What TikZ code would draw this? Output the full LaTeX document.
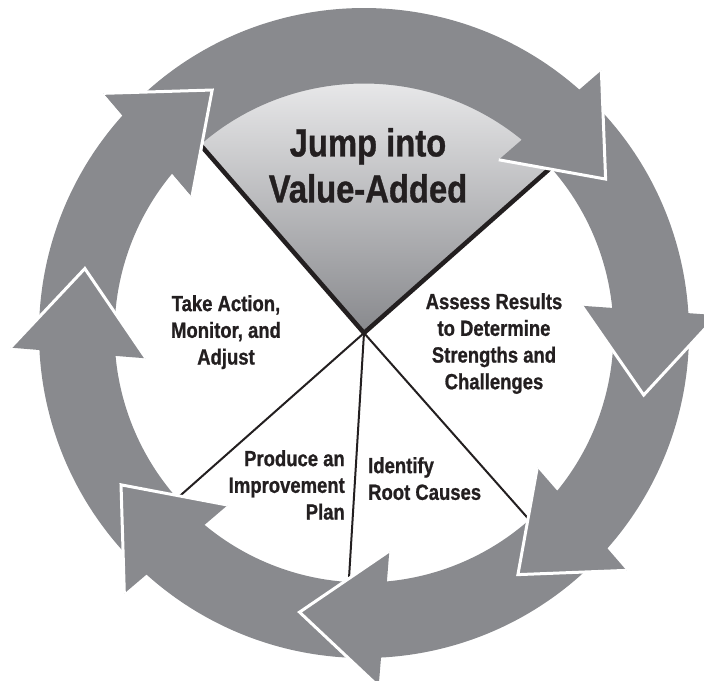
\documentclass[tikz,border=0pt]{standalone}
\usepackage{fontspec}
\newfontfamily\condfont{Liberation Sans}[FakeStretch=0.84,FakeBold=0.9]
\definecolor{arrowgray}{RGB}{137,138,142}
\definecolor{wedgetop}{RGB}{243,243,244}
\definecolor{wedgebot}{RGB}{136,137,141}
\definecolor{inkblack}{RGB}{35,31,32}
% #1 = tip angle, #2 = angular length from tip back to tail
\newcommand\cycarrow[2]{%
  \begin{scope}[rotate=#1]
    \fill[arrowgray] (#2:325) arc[start angle=#2, end angle=16, radius=325pt]
      -- (341.23,93.81) -- (286.5,0) -- (206.73,73.71)
      -- (18.27:249.5) arc[start angle=18.27, end angle=#2, radius=249.5pt] -- cycle;
    \draw[headedge] (341.23,93.81) -- (286.5,0) -- (206.73,73.71);
  \end{scope}}
\newcommand\cychead[1]{%
  \begin{scope}[rotate=#1]
    \fill[arrowgray] (341.23,93.81) -- (286.5,0) -- (206.73,73.71) -- cycle;
    \draw[headedge] (341.23,93.81) -- (286.5,0) -- (206.73,73.71);
  \end{scope}}
\begin{document}
\begin{tikzpicture}[x=1pt,y=1pt,
  headedge/.style={draw=white, line width=3pt, line join=miter},
  thinline/.style={draw=inkblack, line width=2pt},
  thickline/.style={draw=inkblack, line width=4.5pt, line join=miter},
  lbl/.style={font=\condfont\bfseries\fontsize{22}{26.7}\selectfont, text=inkblack, inner sep=0pt},
  ttl/.style={font=\condfont\bfseries\fontsize{39}{46}\selectfont, text=inkblack, inner sep=0pt, align=center}]
\useasboundingbox (-364,-347) rectangle (340,333);
\clip (-364,-347) rectangle (340,333);
\coordinate (c) at (0,0);
% top wedge
\shade[top color=wedgetop, bottom color=wedgebot]
  (c) -- (41.5:252) arc[start angle=41.5, end angle=131, radius=252pt] -- cycle;
\draw[thickline] (131:252) -- (c) -- (41.5:252);
% thin dividers
\coordinate (d1) at (-48.5:252);
\coordinate (d2) at (-93.5:252);
\coordinate (d3) at (-138.5:252);
\draw[thinline] (c) -- (d1);
\draw[thinline] (c) -- (d2);
\draw[thinline] (c) -- (d3);
% ring of arrows
\cycarrow{122}{57}
\cycarrow{167}{57}
\cycarrow{-148}{57}
\cycarrow{-103}{57.5}
\cycarrow{-57.5}{57}
\cycarrow{-12.5}{57}
\cycarrow{32.5}{101.5}
\cychead{122}
% texts
\node[ttl] (t0) at (4,167.5) {Jump into\\Value-Added};
\node[lbl, align=center, anchor=north] (t1) at (130,40) {Assess Results\\to Determine\\Strengths and\\Challenges};
\node[lbl, align=left, anchor=north west] (t2) at (4,-124) {Identify\\Root Causes};
\node[lbl, align=right, anchor=north east] (t3) at (-19,-117) {Produce an\\Improvement\\Plan};
\node[lbl, align=center, anchor=north] (t4) at (-138,38) {Take Action,\\Monitor, and\\Adjust};
\end{tikzpicture}
\end{document}
